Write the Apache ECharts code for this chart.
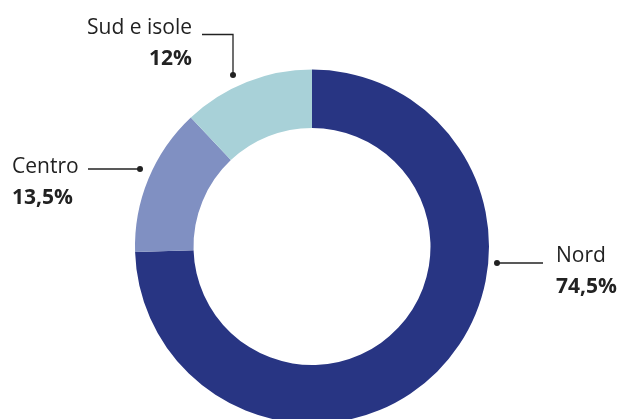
<!DOCTYPE html>
<html>
<head>
<meta charset="utf-8">
<script src="https://cdn.jsdelivr.net/npm/echarts@6/dist/echarts.min.js"></script>
<style>
  html, body { margin: 0; padding: 0; background: #fff; }
  #chart { width: 622px; height: 419px; }
</style>
</head>
<body>
<div id="chart"></div>
<script>
// Distribution by area (percent)
const areas = ['Nord', 'Centro', 'Sud e isole'];
const shares = [74.5, 13.5, 12];
const colors = ['#283583', '#8090c2', '#a8d1d8'];

const fmt = v => String(v).replace('.', ',') + '%';

// Label anchor + leader line for each slice
const labelSpots = [
  { x: 556, y: 272, align: 'left',  pts: [[497, 263], [497, 263], [543, 263]] },
  { x: 12,  y: 183, align: 'left',  pts: [[140, 169], [140, 169], [88, 169]] },
  { x: 192, y: 44,  align: 'right', pts: [[233, 75], [233, 34.5], [202, 34.5]] }
];

const chart = echarts.init(document.getElementById('chart'), null, { renderer: 'canvas' });

chart.setOption({
  animation: false,
  series: [{
    type: 'pie',
    center: [312, 246.5],
    radius: [118.5, 177],
    startAngle: 90,
    clockwise: true,
    silent: true,
    itemStyle: { borderWidth: 0 },
    data: areas.map((name, i) => ({
      name,
      value: shares[i],
      itemStyle: { color: colors[i] }
    })),
    label: {
      show: true,
      position: 'outside',
      formatter: p => '{n|' + p.name + '}\n{v|' + fmt(p.value) + '}',
      rich: {
        n: { fontFamily: 'Open Sans', fontSize: 21, color: '#222', lineHeight: 31 },
        v: { fontFamily: 'Open Sans', fontSize: 21, fontWeight: 'bold', color: '#222', lineHeight: 31 }
      }
    },
    labelLine: {
      show: true,
      smooth: false,
      lineStyle: { color: '#222', width: 1.3 }
    },
    labelLayout: params => {
      const s = labelSpots[params.dataIndex];
      return {
        x: s.x,
        y: s.y,
        align: s.align,
        verticalAlign: 'middle',
        labelLinePoints: s.pts
      };
    }
  }],
  // end dots of the leader lines
  graphic: labelSpots.map(s => ({
    type: 'circle',
    shape: { cx: s.pts[0][0], cy: s.pts[0][1], r: 3 },
    style: { fill: '#222' },
    silent: true
  }))
});
</script>
</body>
</html>
